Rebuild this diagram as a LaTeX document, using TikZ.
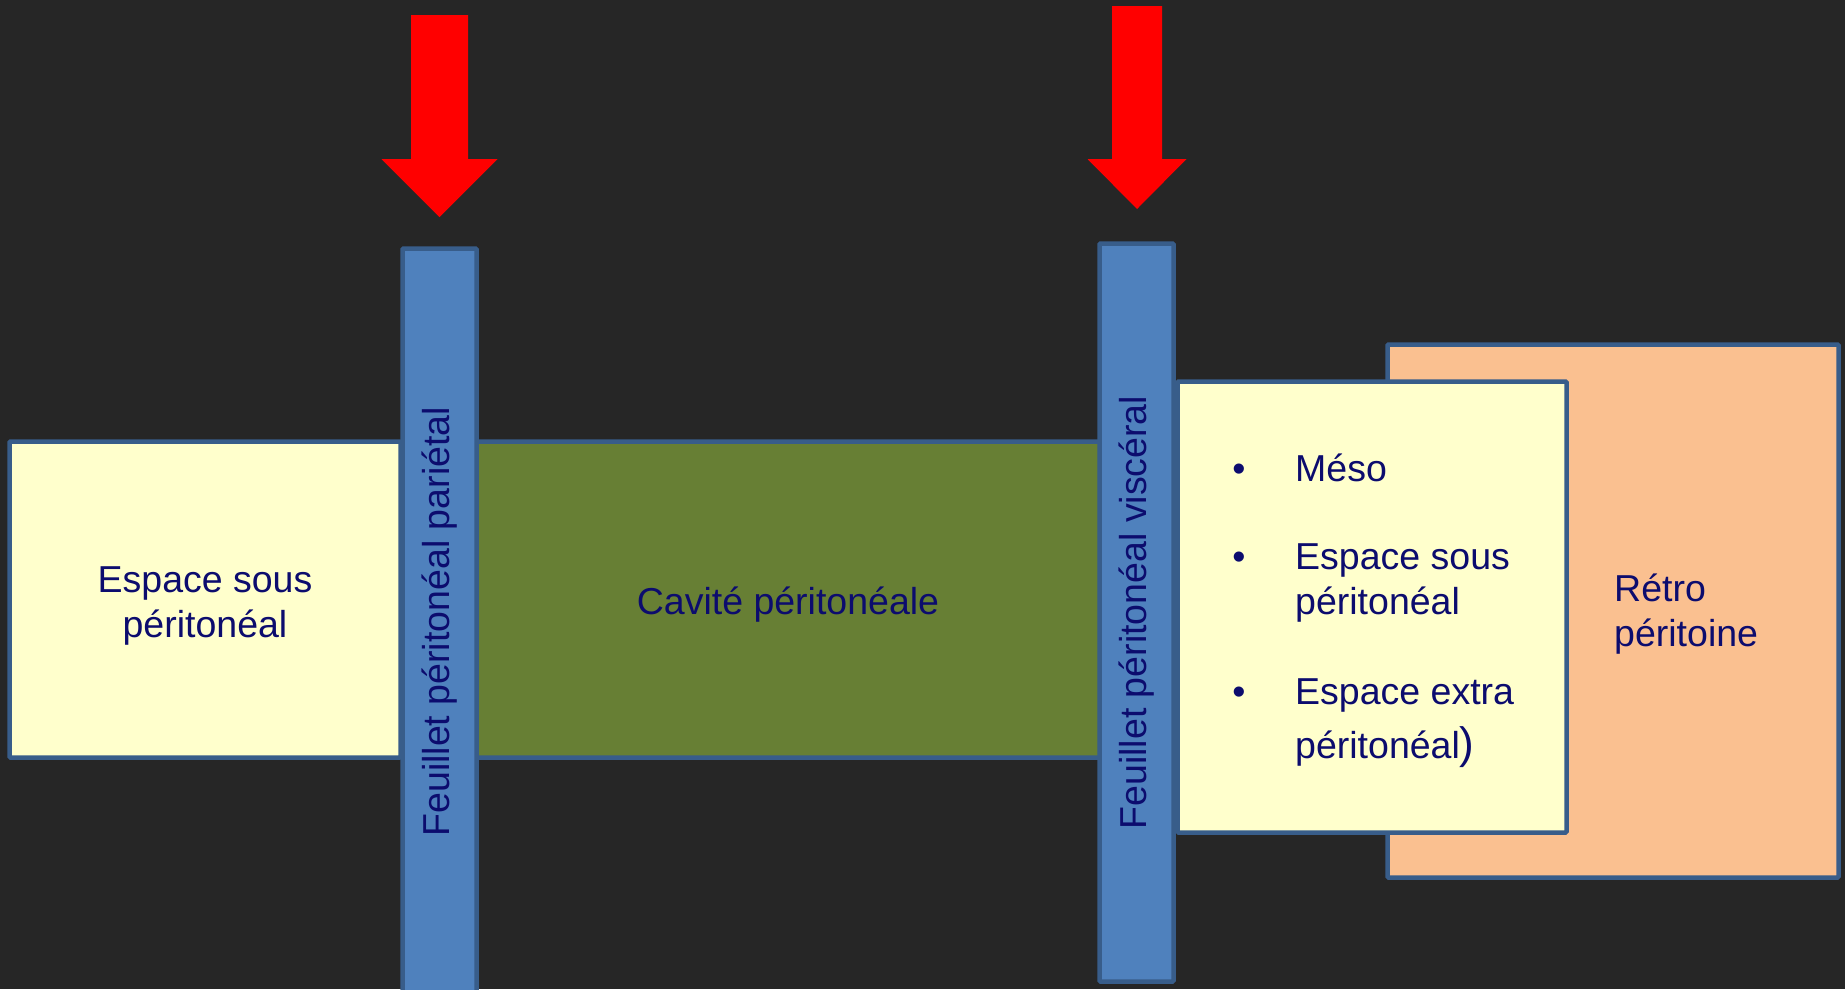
\documentclass[tikz,border=0pt]{standalone}
\usepackage{fontspec}
\setmainfont{Liberation Sans}
\usetikzlibrary{positioning}
\usetikzlibrary{math}

\definecolor{fond}{RGB}{38,38,38}
\definecolor{bord}{RGB}{56,93,138}
\definecolor{feuille}{RGB}{79,129,189}
\definecolor{creme}{RGB}{255,255,204}
\definecolor{olive}{RGB}{103,127,52}
\definecolor{saumon}{RGB}{250,192,144}
\definecolor{encre}{RGB}{12,12,110}
\definecolor{rouge}{RGB}{255,0,0}

\begin{document}
\begin{tikzpicture}[x=1pt, y=-1pt,
    zone/.style={draw=bord, line width=4.5pt, rounded corners=1pt, inner sep=0pt},
    texte/.style={text=encre, font=\fontsize{37.5}{45}\selectfont},
  ]
  \tikzmath{
    \xPuce = 1239;
    \xListe = 1295;
  }

  \fill[fond] (0,0) rectangle (1845,989);
  \useasboundingbox (0,0) rectangle (1845,989);

  % espaces
  \node[zone, fill=saumon, minimum width=451, minimum height=533] (retro) at (1613,611) {};
  \node[zone, fill=creme, minimum width=389, minimum height=451] (sousvisc) at (1372,607) {};
  \node[zone, fill=creme, minimum width=391, minimum height=316] (souspar) at (205,599.5) {};
  \node[zone, fill=olive, minimum width=624, minimum height=316] (cavite) at (788,599.5) {};
  \node[texte, align=center] (sousparTxt) at ([yshift=-6pt]souspar.center) {Espace sous\\péritonéal};
  \node[texte] (caviteTxt) at ([yshift=-5pt]cavite.center) {Cavité péritonéale};

  % feuillets
  \node[zone, fill=feuille, rotate=90, minimum width=746.5, minimum height=74, texte] (parietal) at (439.5,621.75) {Feuillet péritonéal pariétal};
  \node[zone, fill=feuille, rotate=90, minimum width=738, minimum height=74, texte] (visceral) at (1136.5,612.5) {Feuillet péritonéal viscéral};

  % liste
  \node[texte, anchor=base, inner sep=0pt] (puce1) at (\xPuce,481) {\textbullet};
  \node[texte, anchor=base, inner sep=0pt] (puce2) at (\xPuce,569) {\textbullet};
  \node[texte, anchor=base, inner sep=0pt] (puce3) at (\xPuce,704) {\textbullet};
  \node[texte, anchor=base west, inner sep=0pt] (meso) at (\xListe,481) {Méso};
  \node[texte, anchor=base west, inner sep=0pt, align=left] (soussous) at (\xListe,614) {Espace sous\\péritonéal};
  \node[texte, anchor=base west, inner sep=0pt, align=left] (extra) at (\xListe,758) {Espace extra\\[9pt]péritonéal{\fontsize{44}{44}\selectfont )}};

  \node[texte, anchor=base west, inner sep=0pt, align=left] (retroTxt) at (1614,646) {Rétro\\péritoine};

  % fleches
  \foreach \cx/\haut/\demi/\tete/\pointe in {439.5/15/28.5/58/217, 1137/6/25/49.5/209}
    \fill[rouge] (\cx-\demi,\haut) -- (\cx+\demi,\haut) -- (\cx+\demi,159) -- (\cx+\tete,159)
      -- (\cx,\pointe) -- (\cx-\tete,159) -- (\cx-\demi,159) -- cycle;
\end{tikzpicture}
\end{document}
